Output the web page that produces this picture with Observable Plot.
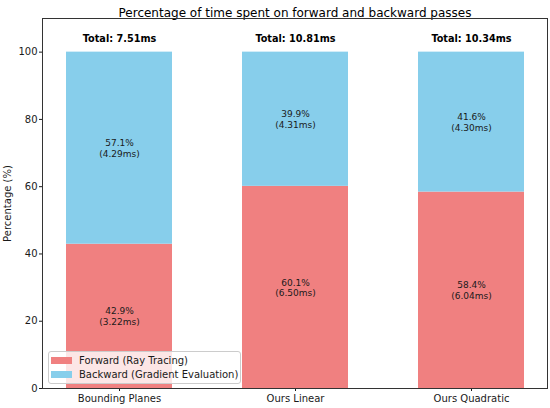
<!DOCTYPE html>
<html>
<head>
<meta charset="utf-8">
<script src="https://cdn.jsdelivr.net/npm/d3@7"></script>
<script src="https://cdn.jsdelivr.net/npm/@observablehq/plot@0.6"></script>
<style>
  html, body { margin: 0; padding: 0; background: #fff; }
  #wrap { position: relative; width: 550px; height: 408px; font-family: "DejaVu Sans", sans-serif; }
  #legend {
    position: absolute; left: 48px; top: 351px; width: 193px; height: 33px;
    box-sizing: border-box; border: 1px solid #cccccc; border-radius: 3px;
    background: rgba(255,255,255,0.8); font-size: 10px; color: #1a1a1a;
  }
  .row { position: absolute; left: 2px; height: 12px; display: flex; align-items: center; white-space: nowrap; }
  .sw { width: 21px; height: 7px; margin-right: 7px; flex: none; }
</style>
</head>
<body>
<div id="wrap"></div>
<script>
const methods = ["Bounding Planes", "Ours Linear", "Ours Quadratic"];
const forwardMs = [3.22, 6.50, 6.04];
const backwardMs = [4.29, 4.31, 4.30];
const totalMs = [7.51, 10.81, 10.34];
const forwardPct = [42.9, 60.1, 58.4];
const backwardPct = [57.1, 39.9, 41.6];
const seriesNames = ["Forward (Ray Tracing)", "Backward (Gradient Evaluation)"];
const seriesColors = ["#F08080", "#87CEEB"];
const yTicks = [0, 20, 40, 60, 80, 100];
const titleText = "Percentage of time spent on forward and backward passes";

const rows = [];
methods.forEach((m, i) => {
  rows.push({method: m, series: seriesNames[0], pct: forwardPct[i], ms: forwardMs[i], y1: 0, y2: forwardPct[i]});
  rows.push({method: m, series: seriesNames[1], pct: backwardPct[i], ms: backwardMs[i], y1: forwardPct[i], y2: forwardPct[i] + backwardPct[i]});
});
const totals = methods.map((m, i) => ({method: m, total: totalMs[i], top: 100}));

const chart = Plot.plot({
  width: 550,
  height: 408,
  marginLeft: 42,
  marginRight: 3,
  marginTop: 18,
  marginBottom: 20,
  style: {fontFamily: "DejaVu Sans, sans-serif", fontSize: "10px", color: "#1a1a1a", background: "#fff"},
  x: {domain: methods, paddingInner: 0.4, paddingOuter: 0.13},
  y: {domain: [0, 110]},
  color: {domain: seriesNames, range: seriesColors},
  marks: [
    Plot.rectY(rows, {x: "method", y1: "y1", y2: "y2", fill: "series"}),
    Plot.text(rows, {
      x: "method", y: d => (d.y1 + d.y2) / 2,
      text: d => `${d.pct.toFixed(1)}%\n(${d.ms.toFixed(2)}ms)`,
      fontSize: 9, lineHeight: 1.18, fill: "#1a1a1a"
    }),
    Plot.text(totals, {
      x: "method", y: "top", dy: -13,
      text: d => `Total: ${d.total.toFixed(2)}ms`,
      fontWeight: "bold", fontSize: 9.7, fill: "#000"
    }),
    Plot.text([titleText], {frameAnchor: "top", dy: -10, text: d => d, fontSize: 12, fill: "#000"}),
    Plot.axisX({tickSize: 3, tickPadding: 3, fontSize: 10, label: null}),
    Plot.axisY({ticks: yTicks, tickSize: 3, tickPadding: 2, fontSize: 10, label: "Percentage (%)", labelAnchor: "center", labelArrow: "none"}),
    Plot.frame({stroke: "#333", strokeWidth: 1})
  ]
});

const wrap = document.getElementById("wrap");
wrap.appendChild(chart);

const legend = document.createElement("div");
legend.id = "legend";
seriesNames.forEach((name, i) => {
  const r = document.createElement("div");
  r.className = "row";
  r.style.top = (i === 0 ? 2 : 16.5) + "px";
  const sw = document.createElement("div");
  sw.className = "sw";
  sw.style.background = seriesColors[i];
  const t = document.createElement("span");
  t.textContent = name;
  r.appendChild(sw);
  r.appendChild(t);
  legend.appendChild(r);
});
wrap.appendChild(legend);
</script>
</body>
</html>
